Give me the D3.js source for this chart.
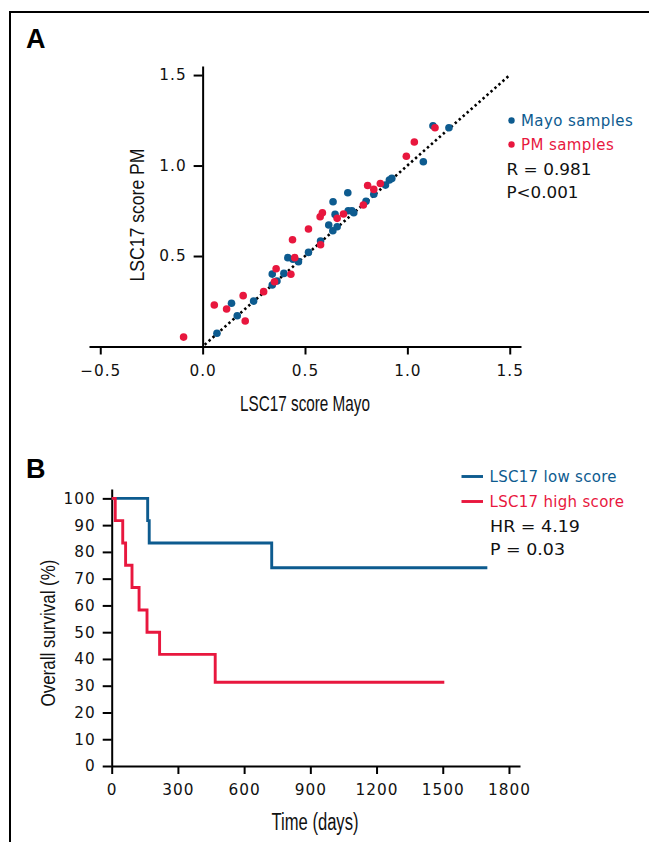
<!DOCTYPE html>
<html>
<head>
<meta charset="utf-8">
<script src="https://cdn.jsdelivr.net/npm/d3@7"></script>
<style>
  body { margin: 0; background: #fff; }
  svg text { font-family: "DejaVu Sans", sans-serif; }
  .title { font-family: "Liberation Sans", Arial, sans-serif; }
</style>
</head>
<body>
<svg id="fig" width="649" height="842"></svg>
<script>
// panel A - LSC17 score, Mayo vs PM
var mayoX = [0.070, 0.141, 0.169, 0.249, 0.340, 0.340, 0.363, 0.397, 0.416, 0.441, 0.468, 0.517, 0.576, 0.616, 0.636, 0.657, 0.637, 0.647, 0.709, 0.711, 0.729, 0.738, 0.798, 0.836, 0.893, 0.912, 0.924, 1.078, 1.125, 1.203];
var mayoY = [0.073, 0.239, 0.170, 0.251, 0.400, 0.340, 0.362, 0.404, 0.491, 0.482, 0.469, 0.520, 0.583, 0.671, 0.640, 0.662, 0.800, 0.730, 0.850, 0.750, 0.750, 0.739, 0.802, 0.841, 0.892, 0.920, 0.929, 1.021, 1.220, 1.209];
var pmX = [-0.093, 0.057, 0.117, 0.198, 0.208, 0.298, 0.351, 0.359, 0.431, 0.439, 0.450, 0.517, 0.576, 0.574, 0.585, 0.657, 0.688, 0.785, 0.806, 0.836, 0.868, 0.995, 1.034, 1.135];
var pmY = [0.052, 0.229, 0.207, 0.281, 0.141, 0.303, 0.358, 0.430, 0.399, 0.590, 0.491, 0.649, 0.562, 0.717, 0.739, 0.708, 0.732, 0.782, 0.890, 0.868, 0.901, 1.051, 1.130, 1.209];
var xTicksA = [-0.5, 0, 0.5, 1, 1.5];
var yTicksA = [0.5, 1, 1.5];

// panel B - Kaplan-Meier
var lowTimes = [0, 163, 170, 725, 1702];
var lowSurv = [100, 91.7, 83.3, 74.1, 74.1];
var highTimes = [0, 16, 50, 63, 92, 124, 160, 217, 469, 1507];
var highSurv = [100, 91.7, 83.3, 75, 66.7, 58.3, 50, 41.7, 31.3, 31.3];
var xTicksB = [0, 300, 600, 900, 1200, 1500, 1800];
var yTicksB = [0, 10, 20, 30, 40, 50, 60, 70, 80, 90, 100];

var BLUE = '#0d5b8f';
var RED = '#e8173e';
var INK = '#111';

var svg = d3.select('#fig');

// frame
svg.append('path')
  .attr('d', 'M10,842 L10,12 L649,12')
  .attr('fill', 'none')
  .attr('stroke', '#000')
  .attr('stroke-width', 2);

function styleAxis(g) {
  g.selectAll('path, line').attr('stroke', '#000').attr('stroke-width', 2);
  g.selectAll('text').attr('font-size', 15.3).attr('fill', INK)
    .attr('font-family', '"DejaVu Sans", sans-serif')
    .attr('letter-spacing', 1);
}

// condensed axis title, squeezed to the measured width
function title(x, y, rot, size, len, txt) {
  svg.append('text').attr('class', 'title')
    .attr('transform', 'translate(' + x + ',' + y + ')' + (rot ? ' rotate(-90)' : ''))
    .attr('text-anchor', 'middle')
    .attr('font-size', size)
    .attr('textLength', len)
    .attr('lengthAdjust', 'spacingAndGlyphs')
    .attr('fill', INK)
    .text(txt);
}

// ---------- A ----------
var xA = d3.scaleLinear().domain([-0.555, 1.555]).range([89, 521]);
var yA = d3.scaleLinear().domain([0, 1.55]).range([346.5, 66]);

svg.append('text').attr('x', 26).attr('y', 48).attr('class', 'title')
  .attr('font-size', 27).attr('font-weight', 'bold').text('A');

svg.append('g')
  .attr('transform', 'translate(0,' + yA(0) + ')')
  .call(d3.axisBottom(xA).tickValues(xTicksA).tickSize(8).tickSizeOuter(0).tickPadding(11)
    .tickFormat(function(d) { return d3.format('.1f')(d).replace('-', '\u2212'); }))
  .call(styleAxis);

svg.append('g')
  .attr('transform', 'translate(' + xA(0) + ',0)')
  .call(d3.axisLeft(yA).tickValues(yTicksA).tickSize(9).tickSizeOuter(0).tickPadding(7)
    .tickFormat(d3.format('.1f')))
  .call(styleAxis);

// identity line
svg.append('line')
  .attr('x1', xA(0.01)).attr('y1', yA(0.01))
  .attr('x2', xA(1.5)).attr('y2', yA(1.5))
  .attr('stroke', '#000').attr('stroke-width', 2.6)
  .attr('stroke-dasharray', '2.4,2.9');

svg.append('g').selectAll('circle')
  .data(d3.range(mayoX.length))
  .join('circle')
  .attr('cx', function(i) { return xA(mayoX[i]); })
  .attr('cy', function(i) { return yA(mayoY[i]); })
  .attr('r', 3.8)
  .attr('fill', BLUE);

svg.append('g').selectAll('circle')
  .data(d3.range(pmX.length))
  .join('circle')
  .attr('cx', function(i) { return xA(pmX[i]); })
  .attr('cy', function(i) { return yA(pmY[i]); })
  .attr('r', 3.8)
  .attr('fill', RED);

title(305, 411, false, 22.5, 130, 'LSC17 score Mayo');
title(143.5, 215, true, 20.5, 133, 'LSC17 score PM');

// legend A
var legA = svg.append('g').attr('font-size', 15);
legA.append('circle').attr('cx', 511.5).attr('cy', 120.5).attr('r', 3.2).attr('fill', BLUE);
legA.append('text').attr('x', 521).attr('y', 126).attr('fill', BLUE)
  .attr('letter-spacing', 0.4).text('Mayo samples');
legA.append('circle').attr('cx', 511.5).attr('cy', 144.5).attr('r', 3.2).attr('fill', RED);
legA.append('text').attr('x', 521).attr('y', 150).attr('fill', RED)
  .attr('letter-spacing', 0.4).text('PM samples');
legA.append('text').attr('x', 506.5).attr('y', 175).attr('fill', INK)
  .attr('textLength', 85).attr('lengthAdjust', 'spacingAndGlyphs').text('R = 0.981');
legA.append('text').attr('x', 506.5).attr('y', 198).attr('fill', INK)
  .attr('textLength', 72).attr('lengthAdjust', 'spacingAndGlyphs').text('P<0.001');

// ---------- B ----------
var xB = d3.scaleLinear().domain([0, 1850]).range([111.7, 520]);
var yB = d3.scaleLinear().domain([0, 103.5]).range([766, 489]);

svg.append('text').attr('x', 26).attr('y', 478).attr('class', 'title')
  .attr('font-size', 27).attr('font-weight', 'bold').text('B');

svg.append('g')
  .attr('transform', 'translate(0,' + yB(0) + ')')
  .call(d3.axisBottom(xB).tickValues(xTicksB).tickSize(8).tickSizeOuter(0).tickPadding(10.5)
    .tickFormat(d3.format('d')))
  .call(styleAxis);

svg.append('g')
  .attr('transform', 'translate(' + xB(0) + ',0)')
  .call(d3.axisLeft(yB).tickValues(yTicksB).tickSize(9).tickSizeOuter(0).tickPadding(7)
    .tickFormat(d3.format('d')))
  .call(styleAxis);

var km = d3.line()
  .x(function(d) { return xB(d[0]); })
  .y(function(d) { return yB(d[1]); })
  .curve(d3.curveStepAfter);

svg.append('path')
  .attr('d', km(d3.zip(lowTimes, lowSurv)))
  .attr('fill', 'none').attr('stroke', BLUE).attr('stroke-width', 2.9);

svg.append('path')
  .attr('d', km(d3.zip(highTimes, highSurv)))
  .attr('fill', 'none').attr('stroke', RED).attr('stroke-width', 2.9);

title(315, 830, false, 23, 87, 'Time (days)');
title(54.5, 633, true, 19.5, 147, 'Overall survival (%)');

// legend B
var legB = svg.append('g').attr('font-size', 15);
legB.append('line').attr('x1', 461.5).attr('x2', 483).attr('y1', 476.5).attr('y2', 476.5)
  .attr('stroke', BLUE).attr('stroke-width', 2.9);
legB.append('text').attr('x', 489.5).attr('y', 482).attr('fill', BLUE)
  .attr('letter-spacing', 0.3).text('LSC17 low score');
legB.append('line').attr('x1', 461.5).attr('x2', 483).attr('y1', 501.5).attr('y2', 501.5)
  .attr('stroke', RED).attr('stroke-width', 2.9);
legB.append('text').attr('x', 489.5).attr('y', 507).attr('fill', RED)
  .attr('letter-spacing', 0.3).text('LSC17 high score');
legB.append('text').attr('x', 490).attr('y', 532).attr('fill', INK)
  .attr('textLength', 90).attr('lengthAdjust', 'spacingAndGlyphs').text('HR = 4.19');
legB.append('text').attr('x', 490).attr('y', 555).attr('fill', INK)
  .attr('textLength', 75).attr('lengthAdjust', 'spacingAndGlyphs').text('P = 0.03');
</script>
</body>
</html>
